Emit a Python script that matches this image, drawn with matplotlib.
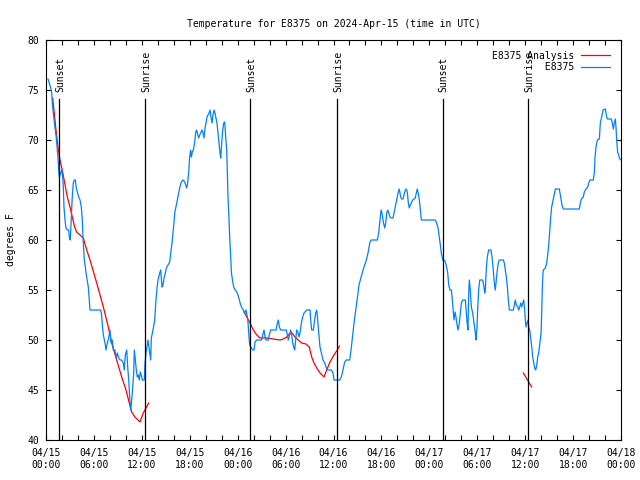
import numpy as np
import matplotlib
matplotlib.use("Agg")
import matplotlib.pyplot as plt
from matplotlib.ticker import MultipleLocator

# hours since 2024-04-15 00:00 UTC, temperature in F
obs_hours = [0.25, 0.41, 0.59, 0.71, 0.79, 0.91, 1.04, 1.16, 1.29, 1.42, 1.50, 1.59, 1.67, 1.84, 1.97,
             2.09, 2.17, 2.25, 2.38, 2.50, 2.67, 2.84, 2.92, 3.04, 3.17, 3.29, 3.42, 3.54, 3.67, 3.79,
             3.92, 4.09, 4.26, 4.42, 4.55, 4.63, 4.72, 4.80, 4.97, 5.09, 5.30, 5.42, 5.51, 6.85, 6.97,
             7.05, 7.18, 7.39, 7.51, 7.68, 7.85, 8.01, 8.14, 8.30, 8.43, 8.64, 8.77, 8.93, 9.10, 9.27,
             9.48, 9.68, 9.80, 9.93, 10.11, 10.23, 10.36, 10.52, 10.61, 10.73, 10.86, 10.98, 11.06, 11.18, 11.31,
             11.43, 11.56, 11.68, 11.81, 11.93, 12.06, 12.31, 12.40, 12.52, 12.65, 12.77, 12.99, 13.11, 13.19, 13.40,
             13.61, 13.77, 13.90, 14.03, 14.24, 14.36, 14.53, 14.65, 14.78, 14.94, 15.07, 15.28, 15.49, 15.62, 15.78,
             15.90, 16.03, 16.12, 16.32, 16.44, 16.62, 16.74, 16.94, 17.16, 17.37, 17.49, 17.62, 17.74, 17.87, 17.99,
             18.12, 18.20, 18.32, 18.45, 18.62, 18.75, 18.87, 19.00, 19.12, 19.25, 19.37, 19.54, 19.66, 19.78, 19.91,
             20.04, 20.16, 20.29, 20.41, 20.54, 20.66, 20.79, 20.91, 21.04, 21.16, 21.29, 21.41, 21.54, 21.66, 21.79,
             21.88, 22.00, 22.13, 22.25, 22.38, 22.50, 22.63, 22.70, 22.79, 22.92, 23.00, 23.13, 23.21, 23.38, 23.54,
             23.71, 23.88, 24.04, 24.21, 24.38, 24.54, 24.71, 24.88, 25.04, 25.21, 25.30, 25.42, 25.51, 25.88, 26.05,
             26.17, 26.38, 27.01, 27.13, 27.30, 27.42, 27.55, 27.84, 27.96, 28.13, 28.80, 28.97, 29.09, 29.22, 29.39,
             30.09, 30.22, 30.34, 30.51, 30.64, 30.77, 30.89, 31.02, 31.14, 31.27, 31.39, 31.56, 31.68, 31.81, 31.97,
             32.14, 32.31, 32.64, 33.06, 33.14, 33.27, 33.48, 33.60, 33.77, 33.90, 34.02, 34.15, 34.31, 34.48, 34.69,
             34.90, 35.10, 35.31, 35.73, 35.94, 36.06, 36.78, 36.98, 37.19, 37.40, 37.61, 38.03, 38.24, 38.41, 38.57,
             38.74, 38.91, 39.07, 39.19, 39.36, 39.53, 39.70, 39.91, 40.11, 40.32, 40.45, 40.57, 40.74, 41.49, 41.66,
             41.79, 41.91, 41.99, 42.11, 42.24, 42.41, 42.54, 42.66, 42.79, 42.91, 43.08, 43.24, 43.45, 43.58, 43.74,
             43.91, 44.08, 44.24, 44.41, 44.54, 44.70, 44.83, 44.99, 45.12, 45.24, 45.37, 45.49, 45.62, 45.74, 45.91,
             46.24, 46.37, 46.49, 46.66, 46.79, 46.92, 47.00, 48.75, 48.92, 49.09, 49.25, 49.38, 49.50, 49.67, 49.84,
             50.00, 50.17, 50.30, 50.43, 50.59, 50.76, 50.88, 51.01, 51.09, 51.22, 51.34, 51.47, 51.59, 51.76, 51.88,
             52.01, 52.18, 52.51, 52.59, 52.72, 52.84, 52.93, 53.01, 53.13, 53.26, 53.43, 53.59, 53.76, 53.84, 53.97,
             54.05, 54.18, 54.31, 54.68, 54.81, 54.93, 55.01, 55.14, 55.26, 55.43, 55.72, 55.85, 55.97, 56.14, 56.26,
             56.39, 56.51, 56.64, 56.76, 57.27, 57.39, 57.52, 57.64, 57.77, 57.89, 58.02, 58.52, 58.64, 58.77, 58.89,
             59.07, 59.19, 59.32, 59.44, 59.57, 59.69, 59.82, 59.94, 60.02, 60.11, 60.23, 60.36, 60.44, 60.57, 60.69,
             60.82, 60.94, 61.07, 61.19, 61.32, 61.45, 61.57, 61.70, 61.82, 61.99, 62.07, 62.15, 62.24, 62.28, 62.53,
             62.70, 62.82, 62.95, 63.07, 63.20, 63.32, 63.45, 63.57, 63.70, 63.78, 64.28, 64.45, 64.61, 64.78, 66.78,
             66.91, 67.03, 67.28, 67.41, 67.62, 67.83, 67.96, 68.12, 68.54, 68.66, 68.75, 68.87, 69.04, 69.29, 69.41,
             69.58, 69.75, 70.04, 70.16, 70.29, 70.79, 70.91, 71.04, 71.16, 71.29, 71.38, 71.46, 71.58, 71.71, 71.79,
             72.00]
obs_temps = [76.1, 75.7, 75.2, 74.7, 73.7, 72.7, 71.8, 71.0, 70.2, 69.0, 68.2, 67.0, 66.3, 66.7, 67.0,
             66.3, 65.3, 63.3, 62.0, 61.2, 61.0, 61.0, 60.3, 60.0, 62.3, 64.3, 65.7, 66.0, 66.0, 65.2,
             64.8, 64.3, 64.0, 63.3, 62.0, 60.3, 59.0, 58.0, 57.0, 56.3, 55.3, 54.0, 53.0, 53.0, 52.5,
             51.5, 50.5, 49.7, 49.0, 49.7, 50.2, 51.0, 49.7, 50.0, 49.0, 49.0, 48.2, 48.7, 48.2, 48.0,
             48.0, 47.7, 47.0, 48.5, 49.0, 47.3, 46.0, 43.7, 43.0, 44.0, 45.3, 46.7, 49.0, 48.0, 47.0,
             46.3, 46.5, 46.0, 46.8, 46.5, 46.0, 46.0, 47.7, 48.7, 49.3, 50.0, 48.7, 48.0, 50.2, 51.0,
             52.0, 54.0, 55.2, 56.0, 56.7, 57.0, 55.3, 55.5, 56.2, 56.7, 57.2, 57.5, 57.8, 58.7, 59.7,
             60.7, 61.8, 62.7, 63.5, 64.0, 64.7, 65.2, 65.8, 66.0, 65.8, 65.5, 65.2, 65.7, 66.8, 68.3,
             69.0, 68.3, 68.8, 69.0, 69.8, 70.8, 71.0, 70.5, 70.2, 70.5, 70.7, 71.0, 70.7, 70.2, 71.2,
             71.7, 72.3, 72.5, 72.7, 73.0, 72.3, 71.7, 72.5, 73.0, 72.7, 72.2, 71.7, 70.7, 69.7, 68.7,
             68.2, 69.7, 71.0, 71.7, 71.8, 70.3, 69.0, 66.8, 64.3, 62.0, 60.3, 58.3, 56.8, 55.8, 55.2,
             55.0, 54.8, 54.5, 54.0, 53.5, 53.2, 53.0, 52.7, 53.0, 52.3, 51.7, 50.3, 49.5, 49.0, 49.0,
             49.8, 50.0, 50.0, 50.5, 51.0, 50.3, 50.0, 50.0, 50.5, 51.0, 51.0, 51.7, 52.0, 51.3, 51.0,
             51.0, 50.5, 50.0, 50.5, 51.0, 50.5, 49.7, 49.3, 49.0, 50.0, 51.0, 50.8, 50.3, 50.7, 51.7,
             52.3, 52.7, 53.0, 53.0, 52.0, 51.0, 51.0, 51.8, 52.7, 53.0, 52.0, 50.7, 49.3, 48.7, 48.0,
             47.7, 47.2, 47.0, 47.0, 46.7, 46.0, 46.0, 46.3, 47.0, 47.8, 48.0, 48.0, 49.3, 50.5, 51.7,
             52.7, 53.7, 54.7, 55.5, 56.0, 56.5, 57.0, 57.5, 58.0, 58.7, 59.3, 59.8, 60.0, 60.0, 60.7,
             61.7, 62.7, 63.0, 62.5, 61.8, 61.2, 61.7, 62.7, 63.0, 62.7, 62.3, 62.2, 62.2, 62.7, 63.3,
             64.0, 64.7, 65.1, 64.3, 64.1, 64.1, 64.5, 65.0, 65.1, 64.8, 63.7, 63.2, 63.5, 63.7, 64.0,
             64.2, 64.7, 65.1, 64.5, 63.7, 62.7, 62.0, 62.0, 61.7, 61.2, 60.3, 59.5, 58.7, 58.0, 58.0,
             57.8, 57.3, 56.7, 55.5, 55.0, 55.0, 54.0, 52.7, 52.0, 52.8, 52.3, 51.5, 51.0, 51.7, 52.7,
             53.7, 54.0, 54.0, 53.2, 51.8, 51.0, 54.7, 56.0, 55.0, 53.3, 52.7, 51.7, 50.7, 50.0, 51.3,
             53.0, 55.0, 56.0, 56.0, 55.5, 54.7, 55.0, 57.2, 58.3, 59.0, 59.0, 58.3, 57.3, 55.7, 55.0,
             56.0, 57.0, 57.7, 58.0, 58.0, 57.7, 57.0, 56.3, 55.3, 54.0, 53.0, 53.0, 53.5, 54.0, 53.5,
             53.3, 53.0, 53.3, 53.7, 53.3, 53.7, 54.0, 53.0, 52.0, 51.3, 51.7, 52.0, 51.3, 51.0, 50.2,
             49.3, 48.3, 47.7, 47.2, 47.0, 47.5, 48.3, 48.8, 49.5, 50.7, 52.7, 55.3, 56.8, 57.0, 57.2,
             57.7, 58.5, 59.5, 60.8, 62.3, 63.3, 63.8, 64.3, 64.8, 65.1, 65.1, 64.3, 63.5, 63.1, 63.1,
             63.7, 64.1, 64.3, 64.8, 65.1, 65.3, 65.7, 66.0, 66.0, 66.8, 68.3, 69.3, 70.0, 70.1, 71.7,
             72.3, 73.0, 73.1, 72.5, 72.1, 72.1, 71.7, 71.1, 71.7, 72.1, 71.2, 70.0, 68.8, 68.5, 68.2,
             68.0]

# analysis curve, nan marks the gaps between runs
ana_hours = [0.84, 1.21, 1.50, 1.75, 2.04, 2.34, 2.67, 3.01, 3.29, 3.59, 3.84, 4.26, 4.67, 5.10, 5.51,
             6.35, 7.18, 7.80, 8.23, 8.85, 9.48, 10.02, 10.43, 10.73, 11.14, 11.77, 12.18, 12.52, 12.86,
             np.nan,
             24.79, 25.21, 25.55, 25.96, 26.39, 26.80, 27.64, 28.46, 29.30, 29.72, 30.14, 30.56, 30.81, 31.18,
             31.59, 32.02, 32.56, 32.97, 33.27, 33.56, 33.90, 34.31, 34.81, 35.15, 35.56, 36.06, 36.48, 36.73,
             np.nan,
             59.77, 60.82]
ana_temps = [74.2, 71.3, 69.3, 68.0, 67.0, 65.7, 64.3, 63.3, 62.3, 61.3, 60.8, 60.5, 60.2, 59.0, 58.0,
             55.7, 53.3, 51.3, 49.7, 48.0, 46.3, 45.0, 43.7, 42.8, 42.3, 41.8, 42.7, 43.2, 43.7,
             np.nan,
             52.8, 52.2, 51.7, 51.0, 50.5, 50.2, 50.2, 50.1, 50.0, 50.1, 50.3, 50.7, 50.7, 50.3,
             50.0, 49.7, 49.6, 49.3, 48.3, 47.7, 47.2, 46.7, 46.3, 47.0, 47.8, 48.5, 49.0, 49.4,
             np.nan,
             46.7, 45.3]

sun_hours = [1.67, 12.42, 25.58, 36.47, 49.65, 60.39]
sun_labels = ["Sunset", "Sunrise", "Sunset", "Sunrise", "Sunset", "Sunrise"]

tick_hours = list(range(0, 73, 6))
tick_labels = ["04/15\n00:00", "04/15\n06:00", "04/15\n12:00", "04/15\n18:00",
               "04/16\n00:00", "04/16\n06:00", "04/16\n12:00", "04/16\n18:00",
               "04/17\n00:00", "04/17\n06:00", "04/17\n12:00", "04/17\n18:00",
               "04/18\n00:00"]

plt.rcParams['font.family'] = 'DejaVu Sans Mono'
plt.rcParams['font.size'] = 7

fig = plt.figure(figsize=(6.4, 4.8), dpi=100)
ax = fig.add_axes([46 / 640, 40 / 480, 575 / 640, 400 / 480])

ax.plot(ana_hours, ana_temps, color='#ff0000', lw=0.9, label='E8375 Analysis')
ax.plot(obs_hours, obs_temps, color='#0080ff', lw=0.9, label='         E8375')

for h, lab in zip(sun_hours, sun_labels):
    ax.plot([h, h], [40, 74.1], color='black', lw=0.9)
    ax.text(h + 0.1, 74.8, lab, rotation=90, ha='center', va='bottom')

ax.set_xlim(0, 72)
ax.set_ylim(40, 80)
ax.set_xticks(tick_hours)
ax.set_xticklabels(tick_labels)
ax.xaxis.set_minor_locator(MultipleLocator(2))
ax.set_yticks(range(40, 81, 5))
ax.tick_params(which='both', direction='in', top=True, right=True, length=3.5, width=0.8)
ax.tick_params(axis='x', pad=6)
ax.tick_params(axis='y', pad=5)
for s in ax.spines.values():
    s.set_linewidth(0.8)

ax.set_title('Temperature for E8375 on 2024-Apr-15 (time in UTC)', fontsize=7, pad=9)
ax.set_ylabel('degrees F', labelpad=8)

ax.legend(loc='upper right', frameon=False, markerfirst=False, handlelength=3.0,
          handletextpad=0.7, borderpad=0.3, borderaxespad=0.8, labelspacing=0.15)

fig.savefig('out.png', dpi=100)
